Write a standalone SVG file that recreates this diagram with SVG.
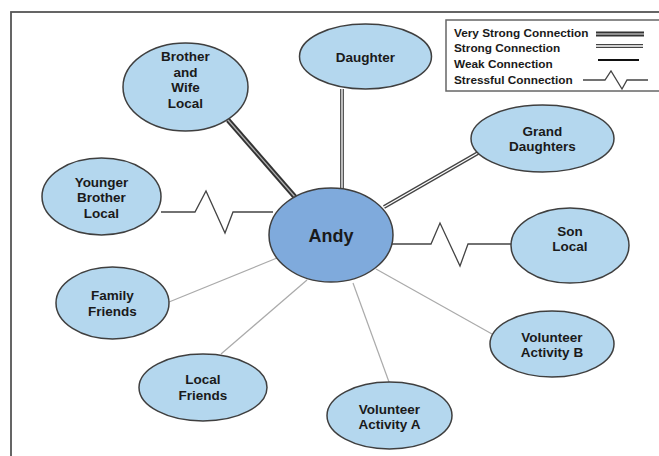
<svg xmlns="http://www.w3.org/2000/svg" width="659" height="456" viewBox="0 0 659 456">
<style>
  .node ellipse { fill: #b4d7ee; stroke: #3f3f3f; stroke-width: 1.5; }
  #andy ellipse { fill: #7faadc; }
  text { font-family: "Liberation Sans", Arial, sans-serif; font-weight: bold; fill: #1a1a1a; }
  .node text { font-size: 13.5px; text-anchor: middle; }
  #andy text { font-size: 18px; }
  .legend text { font-size: 11.8px; }
  .vs-out { stroke: #333; stroke-width: 5; fill: none; }
  .vs-in { stroke: #b0b0b0; stroke-width: 1.3; fill: none; }
  .st-out { stroke: #444; stroke-width: 3.8; fill: none; }
  .st-in { stroke: #fff; stroke-width: 1.3; fill: none; }
  .weak { stroke: #aaa; stroke-width: 1.2; fill: none; }
  .weak-legend { stroke: #111; stroke-width: 1.8; fill: none; }
  .stress { stroke: #444; stroke-width: 1.3; fill: none; stroke-linejoin: miter; }
</style>
<rect x="0" y="0" width="659" height="456" fill="#fff"/>
<rect x="11" y="12" width="700" height="500" fill="none" stroke="#555" stroke-width="1.8"/>

<g id="legend" class="legend">
  <rect x="446" y="20" width="300" height="71" fill="#fff" stroke="#666" stroke-width="1.5"/>
  <text x="454" y="37">Very Strong Connection</text>
  <text x="454" y="52">Strong Connection</text>
  <text x="454" y="68">Weak Connection</text>
  <text x="454" y="84">Stressful Connection</text>
  <line class="vs-out" x1="596" y1="34" x2="644" y2="34"/>
  <line class="vs-in" x1="596" y1="34" x2="644" y2="34"/>
  <line class="st-out" x1="596" y1="46" x2="643" y2="46"/>
  <line class="st-in" x1="596" y1="46" x2="643" y2="46"/>
  <line class="weak-legend" x1="598" y1="60" x2="639" y2="60"/>
  <polyline class="stress" points="583,80 605,80 611,71 622,89 627,80 648,80"/>
</g>

<g id="connectors">
  <line class="vs-out" x1="228" y1="120" x2="295" y2="197"/>
  <line class="vs-in" x1="228" y1="120" x2="295" y2="197"/>
  <line class="st-out" x1="342" y1="89" x2="342" y2="189"/>
  <line class="st-in" x1="342" y1="89" x2="342" y2="189"/>
  <line class="st-out" x1="478" y1="153" x2="384" y2="207"/>
  <line class="st-in" x1="478" y1="153" x2="384" y2="207"/>
  <polyline class="stress" points="161,212 195,212 206,191 225,233 233,212 273,212"/>
  <polyline class="stress" points="392,244 431,244 440,223 460,266 468,244 511,244"/>
  <line class="weak" x1="169" y1="302" x2="277" y2="258"/>
  <line class="weak" x1="221" y1="354" x2="307" y2="280"/>
  <line class="weak" x1="353" y1="283" x2="389" y2="382"/>
  <line class="weak" x1="376" y1="269" x2="492" y2="334"/>
</g>

<g id="brother-wife" class="node">
  <ellipse cx="185.5" cy="87" rx="62.5" ry="44"/>
  <text x="185.5" y="61">Brother</text>
  <text x="185.5" y="76.7">and</text>
  <text x="185.5" y="92.4">Wife</text>
  <text x="185.5" y="108.1">Local</text>
</g>
<g id="daughter" class="node">
  <ellipse cx="365.5" cy="56.5" rx="66" ry="32.5"/>
  <text x="365.5" y="62">Daughter</text>
</g>
<g id="grand-daughters" class="node">
  <ellipse cx="542.5" cy="138.5" rx="71.5" ry="33.5"/>
  <text x="542.5" y="135.5">Grand</text>
  <text x="542.5" y="151.2">Daughters</text>
</g>
<g id="younger-brother" class="node">
  <ellipse cx="101.5" cy="196.5" rx="59.5" ry="38.5"/>
  <text x="101.5" y="186.5">Younger</text>
  <text x="101.5" y="202.2">Brother</text>
  <text x="101.5" y="217.9">Local</text>
</g>
<g id="andy" class="node">
  <ellipse cx="331" cy="235" rx="62" ry="47"/>
  <text x="331" y="242">Andy</text>
</g>
<g id="son-local" class="node">
  <ellipse cx="570" cy="245.5" rx="59" ry="37.5"/>
  <text x="570" y="235.5">Son</text>
  <text x="570" y="251.2">Local</text>
</g>
<g id="family-friends" class="node">
  <ellipse cx="112.5" cy="303" rx="56.5" ry="36"/>
  <text x="112.5" y="300">Family</text>
  <text x="112.5" y="315.7">Friends</text>
</g>
<g id="local-friends" class="node">
  <ellipse cx="203" cy="387.5" rx="64" ry="33.5"/>
  <text x="203" y="384">Local</text>
  <text x="203" y="399.7">Friends</text>
</g>
<g id="volunteer-a" class="node">
  <ellipse cx="389.5" cy="415.5" rx="62.5" ry="33.5"/>
  <text x="389.5" y="413.5">Volunteer</text>
  <text x="389.5" y="429.2">Activity A</text>
</g>
<g id="volunteer-b" class="node">
  <ellipse cx="552" cy="344" rx="62" ry="33"/>
  <text x="552" y="341.5">Volunteer</text>
  <text x="552" y="357.2">Activity B</text>
</g>
</svg>
